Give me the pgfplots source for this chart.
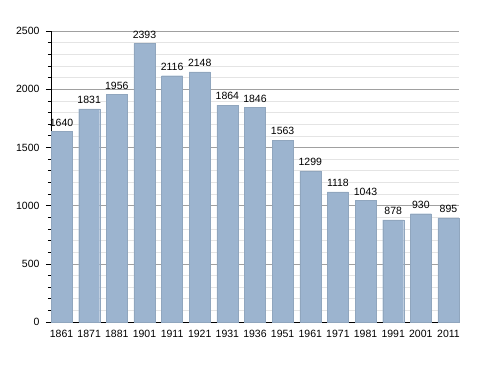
\documentclass[border=0pt]{standalone}
\usepackage{pgfplots}
\pgfplotsset{compat=1.18}
\usepackage{fontspec}
\setmainfont{Liberation Sans}
\definecolor{barc}{RGB}{156,180,207}
\definecolor{gmaj}{RGB}{160,160,160}
\definecolor{gmin}{RGB}{228,228,228}
\begin{document}
\begin{tikzpicture}
\begin{axis}[
  at={(0,0)}, anchor=south west,
  scale only axis, width=408bp, height=291bp,
  xmin=-0.381, xmax=14.381, ymin=0, ymax=2500,
  axis x line*=bottom, axis y line*=left,
  axis line style={-, black, line width=0.8pt},
  xtick={0,...,14},
  xticklabels={1861,1871,1881,1901,1911,1921,1931,1936,1951,1961,1971,1981,1991,2001,2011},
  x tick style={draw=none},
  ytick={0,500,...,2500},
  minor y tick num=4,
  tick align=outside,
  major tick length=5bp, minor tick length=3bp,
  y tick style={black, line width=0.6pt},
  ymajorgrids, yminorgrids,
  major grid style={gmaj, line width=0.6pt},
  minor grid style={gmin, line width=0.5pt},
  tick label style={font=\fontsize{10.5bp}{12bp}\selectfont},
  /pgf/number format/1000 sep={},
  /pgf/number format/assume math mode=true,
  yticklabel style={xshift=-3bp},
  xticklabel style={yshift=0bp},
  ybar, bar width=21bp, bar shift=0pt,
  nodes near coords,
  nodes near coords style={font=\fontsize{10.5bp}{12bp}\selectfont, yshift=1.5bp},
  clip=false,
]
\addplot[fill=barc, draw=barc!92!black, line width=0.3pt] coordinates {
(0,1640) (1,1831) (2,1956) (3,2393) (4,2116) (5,2148) (6,1864) (7,1846)
(8,1563) (9,1299) (10,1118) (11,1043) (12,878) (13,930) (14,895)};
\end{axis}
\path[use as bounding box] (-51bp,-51bp) rectangle (437bp,322bp);
\end{tikzpicture}
\end{document}
